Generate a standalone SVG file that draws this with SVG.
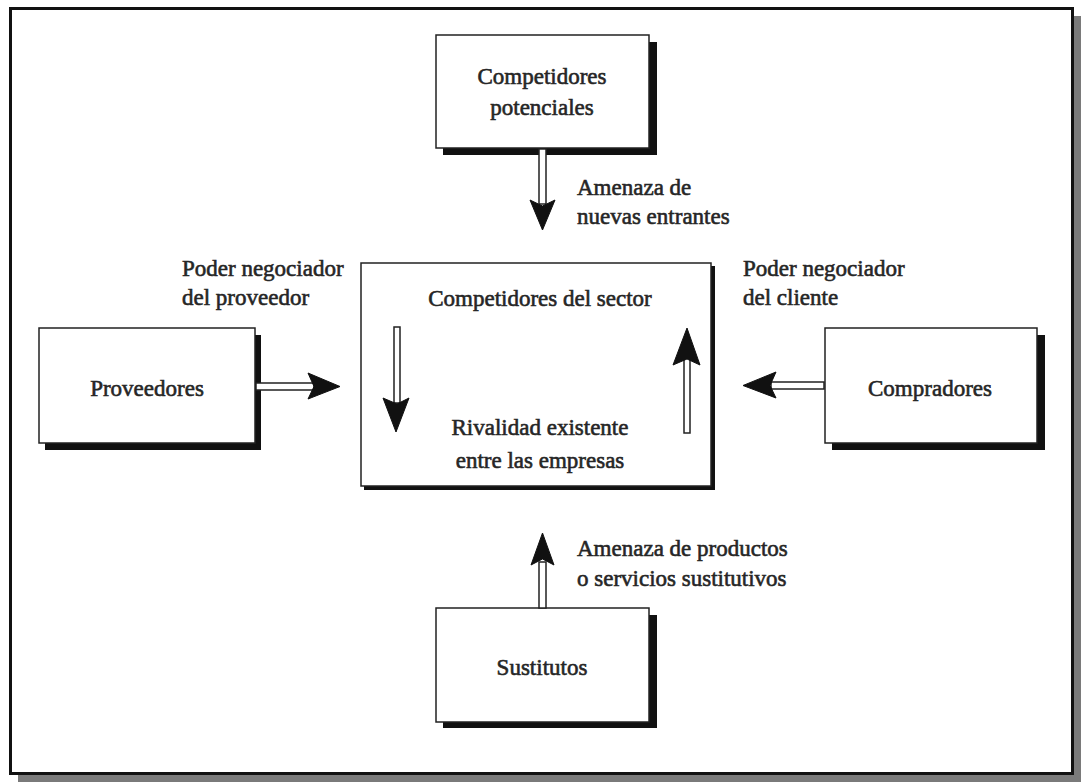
<svg xmlns="http://www.w3.org/2000/svg" width="1081" height="782" viewBox="0 0 1081 782">
<style>
.box{fill:#fff;stroke:#222;stroke-width:1.5}
.shadow{fill:#111}
.t{font-family:"Liberation Serif","DejaVu Serif",serif;font-size:23px;fill:#262626;stroke:#262626;stroke-width:0.6}
.c{text-anchor:middle}
.shaft{fill:#fff;stroke:#222;stroke-width:1.5}
.head{fill:#111;stroke:#111;stroke-width:1}
</style>
<rect x="18" y="16" width="1063" height="766" fill="#7a7a7a"/>
<rect x="10.5" y="8.5" width="1062" height="765" fill="#fff" stroke="#111" stroke-width="3"/>

<g id="competidores-potenciales">
<rect class="shadow" x="443" y="42" width="214" height="113"/>
<rect class="box" x="436" y="35" width="213" height="113"/>
<text class="t c" x="542" y="84">Competidores</text>
<text class="t c" x="542" y="115">potenciales</text>
</g>

<g id="competidores-sector">
<rect class="shadow" x="364" y="266" width="351" height="224"/>
<rect class="box" x="361" y="263" width="350" height="223"/>
<text class="t c" x="540" y="306">Competidores del sector</text>
<text class="t c" x="540" y="435">Rivalidad existente</text>
<text class="t c" x="540" y="468">entre las empresas</text>
</g>

<g id="proveedores">
<rect class="shadow" x="45" y="335" width="216" height="115"/>
<rect class="box" x="39" y="328" width="216" height="115"/>
<text class="t c" x="147" y="396">Proveedores</text>
</g>

<g id="compradores">
<rect class="shadow" x="832" y="335" width="213" height="115"/>
<rect class="box" x="825" y="328" width="212" height="115"/>
<text class="t c" x="930" y="396">Compradores</text>
</g>

<g id="sustitutos">
<rect class="shadow" x="443" y="615" width="214" height="113"/>
<rect class="box" x="436" y="608" width="213" height="114"/>
<text class="t c" x="542" y="675">Sustitutos</text>
</g>

<g id="connectors">
<rect class="shaft" x="539" y="149" width="7" height="55"/>
<path class="head" d="M530,200 L542.5,206 L555,200 L542.5,230 Z"/>
<rect class="shaft" x="256" y="383" width="58" height="7"/>
<path class="head" d="M308,373 L314,386.5 L308,399 L340,386.5 Z"/>
<rect class="shaft" x="771" y="382" width="53" height="7"/>
<path class="head" d="M776,372 L770,385.5 L776,398 L743,385.5 Z"/>
<rect class="shaft" x="539" y="562" width="7" height="46"/>
<path class="head" d="M531,565 L542.5,559 L554,565 L542.5,533 Z"/>
<rect class="shaft" x="394" y="327" width="6" height="76"/>
<path class="head" d="M383,398 L397,404 L409,398 L396,432 Z"/>
<rect class="shaft" x="684" y="358" width="6" height="75"/>
<path class="head" d="M673,365 L687,359 L700,365 L687,328 Z"/>
</g>

<g id="labels">
<text class="t" x="577" y="195">Amenaza de</text>
<text class="t" x="577" y="224">nuevas entrantes</text>
<text class="t" x="182" y="276">Poder negociador</text>
<text class="t" x="182" y="305">del proveedor</text>
<text class="t" x="743" y="276">Poder negociador</text>
<text class="t" x="743" y="305">del cliente</text>
<text class="t" x="577" y="556">Amenaza de productos</text>
<text class="t" x="577" y="586">o servicios sustitutivos</text>
</g>
</svg>
